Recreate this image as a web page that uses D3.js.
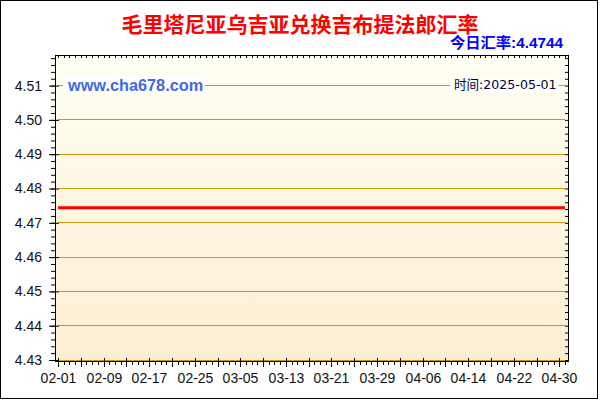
<!DOCTYPE html>
<html><head><meta charset="utf-8">
<script src="https://cdn.jsdelivr.net/npm/d3@7"></script>
<style>body{margin:0;background:#fff}svg{display:block}</style>
</head><body>
<svg id="c" width="600" height="400"></svg>
<script>
const title = "毛里塔尼亚乌吉亚兑换吉布提法郎汇率";
const rateLabel = "今日汇率:4.4744";
const siteLabel = "www.cha678.com";
const timeLabel = "时间:2025-05-01";
const startDay = "2025-02-01";
const endDay = "2025-05-01";
const rates = [
  4.4744,4.4744,4.4744,4.4744,4.4744,4.4744,4.4744,4.4744,4.4744,4.4744,
  4.4744,4.4744,4.4744,4.4744,4.4744,4.4744,4.4744,4.4744,4.4744,4.4744,
  4.4744,4.4744,4.4744,4.4744,4.4744,4.4744,4.4744,4.4744,4.4744,4.4744,
  4.4744,4.4744,4.4744,4.4744,4.4744,4.4744,4.4744,4.4744,4.4744,4.4744,
  4.4744,4.4744,4.4744,4.4744,4.4744,4.4744,4.4744,4.4744,4.4744,4.4744,
  4.4744,4.4744,4.4744,4.4744,4.4744,4.4744,4.4744,4.4744,4.4744,4.4744,
  4.4744,4.4744,4.4744,4.4744,4.4744,4.4744,4.4744,4.4744,4.4744,4.4744,
  4.4744,4.4744,4.4744,4.4744,4.4744,4.4744,4.4744,4.4744,4.4744,4.4744,
  4.4744,4.4744,4.4744,4.4744,4.4744,4.4744,4.4744,4.4744,4.4744,4.4744
];
const xTickLabels = ["02-01","02-09","02-17","02-25","03-05","03-13","03-21","03-29","04-06","04-14","04-22","04-30"];
const yTickLabels = ["4.43","4.44","4.45","4.46","4.47","4.48","4.49","4.50","4.51"];

const parse = d3.timeParse("%Y-%m-%d");
const t0 = parse(startDay), t1 = parse(endDay);
const days = d3.timeDay.range(t0, d3.timeDay.offset(t1, 1));
const data = days.map((d, i) => ({date: d, value: rates[i]}));
const yTicks = yTickLabels.map(Number);
const xMajorLabelDates = xTickLabels.map(s => parse("2025-" + s));

const svg = d3.select("#c");
const L = 55, R = 568, T = 55, B = 361;

const x = d3.scaleTime().domain([t0, t1]).rangeRound([58, 565]);
const y = d3.scaleLinear().domain([4.43, 4.51]).range([360, 85.6]);
const yTop = y.invert(T);

// outer border
svg.append("rect").attr("x", 0.5).attr("y", 0.5).attr("width", 597).attr("height", 398)
  .attr("fill", "#fff").attr("stroke", "#000").attr("stroke-width", 1);

// gradient
const defs = svg.append("defs");
const g = defs.append("linearGradient").attr("id", "bg").attr("x1", 0).attr("y1", 0).attr("x2", 0).attr("y2", 1);
g.append("stop").attr("offset", "0%").attr("stop-color", "#FFFFF3");
g.append("stop").attr("offset", "100%").attr("stop-color", "#FCEED2");

svg.append("rect").attr("x", L).attr("y", T).attr("width", R - L).attr("height", B - T).attr("fill", "url(#bg)");

// title texts
svg.append("text").attr("x", 300).attr("y", 31.5).attr("text-anchor", "middle")
  .attr("font-family", "'Noto Sans CJK SC', sans-serif").attr("font-weight", "bold")
  .attr("font-size", 21).attr("fill", "#FF0000").text(title);
svg.append("text").attr("x", 563).attr("y", 48).attr("text-anchor", "end")
  .attr("font-family", "'Liberation Sans', 'Noto Sans CJK SC', sans-serif").attr("font-weight", "bold")
  .attr("font-size", 15.3).attr("fill", "#0000FF").text(rateLabel);

// grid lines
const crisp = v => Math.round(v - 0.5) + 0.5;
svg.append("g").selectAll("line").data(yTicks).join("line")
  .attr("x1", x(t0)).attr("x2", x(t1))
  .attr("y1", d => crisp(y(d))).attr("y2", d => crisp(y(d)))
  .attr("stroke", "#CC9900").attr("stroke-width", 1);

// label boxes
function boxed(txt, xPos, yPos, anchor, font, size, weight, color) {
  const grp = svg.append("g");
  const r = grp.append("rect").attr("fill", "#fff");
  const t = grp.append("text").attr("x", xPos).attr("y", yPos).attr("text-anchor", anchor)
    .attr("font-family", font).attr("font-size", size).attr("font-weight", weight)
    .attr("fill", color).text(txt);
  const bb = t.node().getBBox();
  r.attr("x", bb.x - 4).attr("y", bb.y).attr("width", bb.width + 6).attr("height", bb.height);
}
boxed(siteLabel, 68, 91, "start", "'Liberation Sans', Arial, sans-serif", 16.3, "bold", "#4169E1");
boxed(timeLabel, 556.5, 89, "end", "'DejaVu Sans', 'Noto Sans CJK SC', sans-serif", 12.6, "normal", "#000033");

// data line
svg.append("path").datum(data)
  .attr("d", d3.line().x(d => x(d.date)).y(d => y(d.value)))
  .attr("fill", "none").attr("stroke", "#FF0000").attr("stroke-width", 3);

// frame
svg.append("rect").attr("x", L + 0.5).attr("y", T + 0.5).attr("width", R - L).attr("height", B - T)
  .attr("fill", "none").attr("stroke", "#000").attr("stroke-width", 1);

const yMinor = d3.range(0, Math.floor((yTop - 4.43) / 0.002 + 1e-6) + 1).map(i => 4.43 + i * 0.002);
const xMajor = days.filter((d, i) => i % 4 === 0);

function clean(sel) { sel.select(".domain").remove(); sel.selectAll("line").attr("stroke", "#000"); }

// left axis: minor ticks (outside)
svg.append("g").attr("transform", `translate(${L},0)`)
  .call(d3.axisLeft(y).tickValues(yMinor).tickSize(4).tickFormat("")).call(clean);
// left axis majors with labels
svg.append("g").attr("transform", `translate(${L},0)`)
  .call(d3.axisLeft(y).tickValues(yTicks).tickSize(6).tickPadding(7).tickFormat((d, i) => yTickLabels[i]))
  .call(clean)
  .call(s => s.selectAll("text").attr("font-family", "'Liberation Sans', Arial, sans-serif").attr("font-size", 14).attr("fill", "#111"));
svg.append("g").attr("transform", `translate(${L},0)`)
  .call(d3.axisRight(y).tickValues(yTicks).tickSize(4).tickFormat("")).call(clean);
// right axis (inside)
svg.append("g").attr("transform", `translate(${R},0)`)
  .call(d3.axisLeft(y).tickValues(yMinor).tickSize(3).tickFormat("")).call(clean);

// top axis (inside)
svg.append("g").attr("transform", `translate(0,${T})`)
  .call(d3.axisBottom(x).tickValues(days).tickSize(3).tickFormat("")).call(clean);

// bottom axis: daily minor (outside)
svg.append("g").attr("transform", `translate(0,${B})`)
  .call(d3.axisBottom(x).tickValues(days).tickSize(4).tickFormat("")).call(clean);
svg.append("g").attr("transform", `translate(0,${B})`)
  .call(d3.axisBottom(x).tickValues(xMajor).tickSize(6).tickFormat("")).call(clean);
svg.append("g").attr("transform", `translate(0,${B})`)
  .call(d3.axisTop(x).tickValues(xMajor).tickSize(3).tickFormat("")).call(clean);
// bottom labels
svg.append("g").attr("transform", `translate(0,${B})`)
  .call(d3.axisBottom(x).tickValues(xMajorLabelDates).tickSize(0).tickPadding(12).tickFormat((d, i) => xTickLabels[i]))
  .call(clean)
  .call(s => s.selectAll("text").attr("font-family", "'Liberation Sans', Arial, sans-serif").attr("font-size", 14).attr("fill", "#111"));
</script>
</body></html>
